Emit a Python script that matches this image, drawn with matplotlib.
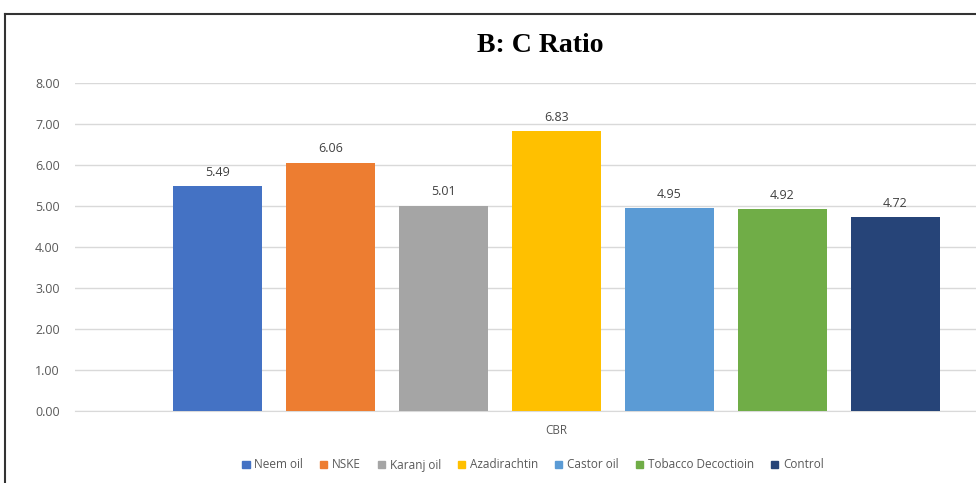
import matplotlib
matplotlib.use("Agg")
import matplotlib.pyplot as plt
from matplotlib.lines import Line2D
from matplotlib.patches import Patch

categories = ["Neem oil", "NSKE", "Karanj oil", "Azadirachtin", "Castor oil", "Tobacco Decoctioin", "Control"]
values = [5.49, 6.06, 5.01, 6.83, 4.95, 4.92, 4.72]
colors = ["#4472C4", "#ED7D31", "#A5A5A5", "#FFC000", "#5B9BD5", "#70AD47", "#264478"]
yticks = [0, 1, 2, 3, 4, 5, 6, 7, 8]
group_label = "CBR"
title = "B: C Ratio"

W, H = 976, 483
fig = plt.figure(figsize=(W/100, H/100), dpi=100)
# axes in pixel coordinates: left 75, right 1038, top 83, bottom 411
ax = fig.add_axes([75/W, 1 - 411/H, (1038-75)/W, (411-83)/H])

x = list(range(len(values)))
bars = ax.bar(x, values, width=89/113, color=colors, zorder=3)
for xi, v in zip(x, values):
    ax.text(xi, v + 0.18, f"{v:.2f}", ha="center", va="bottom", fontsize=9,
            color="#404040", family="Open Sans")

ax.set_xlim(-1.261, 7.261)
ax.set_ylim(0, 8)
ax.set_yticks(yticks)
ax.set_yticklabels([f"{t:.2f}" for t in yticks], fontsize=9, color="#595959", family="Open Sans")
ax.grid(axis="y", color="#D9D9D9", linewidth=1, zorder=0)
ax.tick_params(axis="y", length=0, pad=11)
ax.set_xticks([])
for s in ["top", "right", "left"]:
    ax.spines[s].set_visible(False)
ax.spines["bottom"].set_color("#D9D9D9")

fig.text(556/W, 1 - 430/H, group_label, ha="center", va="center", fontsize=8.5,
         color="#595959", family="Open Sans")
fig.text(540/W, 1 - 46/H, title, ha="center", va="center", fontsize=20,
         fontweight="bold", family="Liberation Serif", color="black")

handles = [Patch(facecolor=c, edgecolor=c) for c in colors]
fig.legend(handles, categories, loc="center", bbox_to_anchor=(533/W, 1 - 465/H), ncol=7,
           frameon=False, handlelength=0.6, handleheight=0.6, handletextpad=0.4,
           columnspacing=1.45, prop={"family": "Open Sans", "size": 8.5},
           labelcolor="#595959")

# chart border (left and top visible)
fig.add_artist(Line2D([5/W, 5/W], [0, 1 - 14/H], color="#333333", linewidth=1.5))
fig.add_artist(Line2D([5/W, 1], [1 - 14/H, 1 - 14/H], color="#333333", linewidth=1.5))

fig.savefig("out.png", dpi=100)
